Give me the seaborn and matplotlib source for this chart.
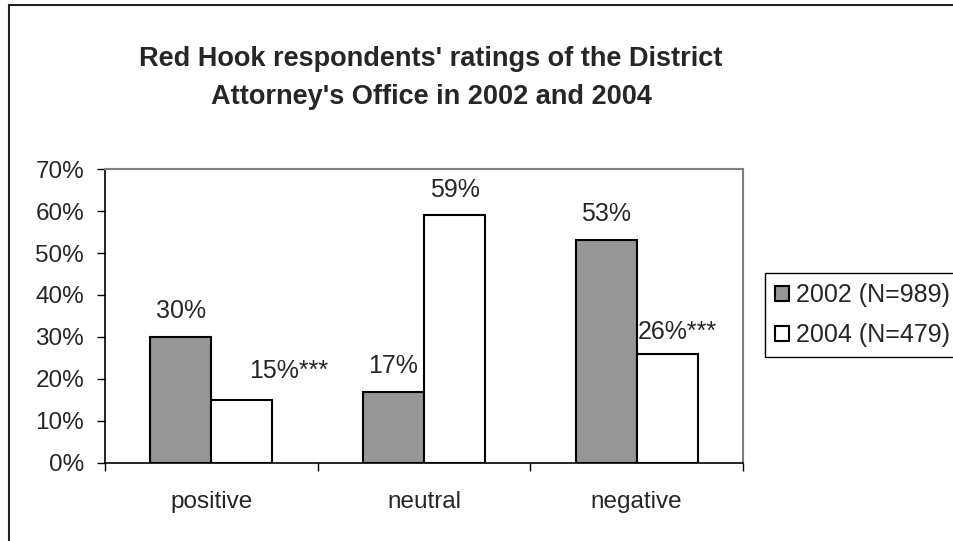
import numpy as np
import pandas as pd
import matplotlib
matplotlib.use("Agg")
import matplotlib.pyplot as plt
import matplotlib.patches as mpatches
from matplotlib.ticker import PercentFormatter, FixedLocator
import seaborn as sns

# data
ratings = ['positive', 'neutral', 'negative']
years = ['2002 (N=989)', '2004 (N=479)']
pct_2002 = [30, 17, 53]
pct_2004 = [15, 59, 26]
sig_2004 = ['***', '', '***']

sns.set_theme(style='white')
plt.rcParams['font.family'] = ['Liberation Sans', 'DejaVu Sans']

df = pd.DataFrame({
    'rating': ratings * 2,
    'year': [years[0]] * 3 + [years[1]] * 3,
    'pct': [v / 100 for v in pct_2002 + pct_2004],
})

fig = plt.figure(figsize=(9.54, 5.41), dpi=100)
ax = fig.add_axes([0.1101, 0.1442, 0.6687, 0.5434])

sns.barplot(data=df, x='rating', y='pct', hue='year', order=ratings,
            hue_order=years, palette=['#969696', 'white'],
            edgecolor='black', linewidth=1.5, width=0.574, ax=ax)

ax.set_ylim(0, 0.70)
ax.set_xlim(-0.5, 2.5)
ax.yaxis.set_major_locator(FixedLocator(np.arange(0, 0.71, 0.1)))
ax.yaxis.set_major_formatter(PercentFormatter(1.0, decimals=0))
ax.set_xlabel('')
ax.set_ylabel('')

# category boundaries get the x tick marks, labels sit between
ax.set_xticks(np.arange(-0.5, 3, 1), minor=True)
ax.tick_params(axis='x', which='major', length=0, labelsize=17.5, pad=20)
ax.tick_params(axis='x', which='minor', length=6, width=1, color='black',
               direction='out', bottom=True)
ax.tick_params(axis='y', length=6, width=1, color='black', direction='out',
               left=True, labelsize=17.5, pad=9)

for side in ['left', 'bottom']:
    ax.spines[side].set_color('black')
    ax.spines[side].set_linewidth(1.2)
for side in ['top', 'right']:
    ax.spines[side].set_color('#808080')
    ax.spines[side].set_linewidth(1.5)

# value labels
bars_2002 = ax.containers[0]
bars_2004 = ax.containers[1]
for bar, v in zip(bars_2002, pct_2002):
    cx = bar.get_x() + bar.get_width() / 2
    ax.annotate(f'{v}%', (cx, bar.get_height()), xytext=(0, 26),
                textcoords='offset pixels', ha='center', va='center',
                fontsize=18)

label_shift = [(7, 29, 'left'), (0, 25, 'center'), (-29, 22, 'left')]
for bar, v, s, (dx, dy, ha) in zip(bars_2004, pct_2004, sig_2004, label_shift):
    cx = bar.get_x() + bar.get_width() / 2
    ax.annotate(f'{v}%{s}', (cx, bar.get_height()), xytext=(dx, dy),
                textcoords='offset pixels', ha=ha, va='center',
                fontsize=18)

ax.legend(loc='upper left', bbox_to_anchor=(765 / 954, 1 - 273 / 541),
          bbox_transform=fig.transFigure, frameon=True, fancybox=False,
          edgecolor='black', framealpha=1, fontsize=18,
          handlelength=0.55, handleheight=0.55, handletextpad=0.3,
          borderpad=0.4, labelspacing=0.65, borderaxespad=0)

fig.text(431 / 954, 1 - 78 / 541,
         "Red Hook respondents' ratings of the District\nAttorney's Office in 2002 and 2004",
         ha='center', va='center', fontsize=19.5, fontweight='bold',
         linespacing=1.65)

# outer chart frame, runs off the right and bottom edge
fig.patches.append(mpatches.Rectangle((9 / 954, -0.1), 1.1, 1 - 5 / 541 + 0.1,
                                      transform=fig.transFigure, fill=False,
                                      edgecolor='#222222', linewidth=1.5))

fig.savefig('out.png', dpi=100)
